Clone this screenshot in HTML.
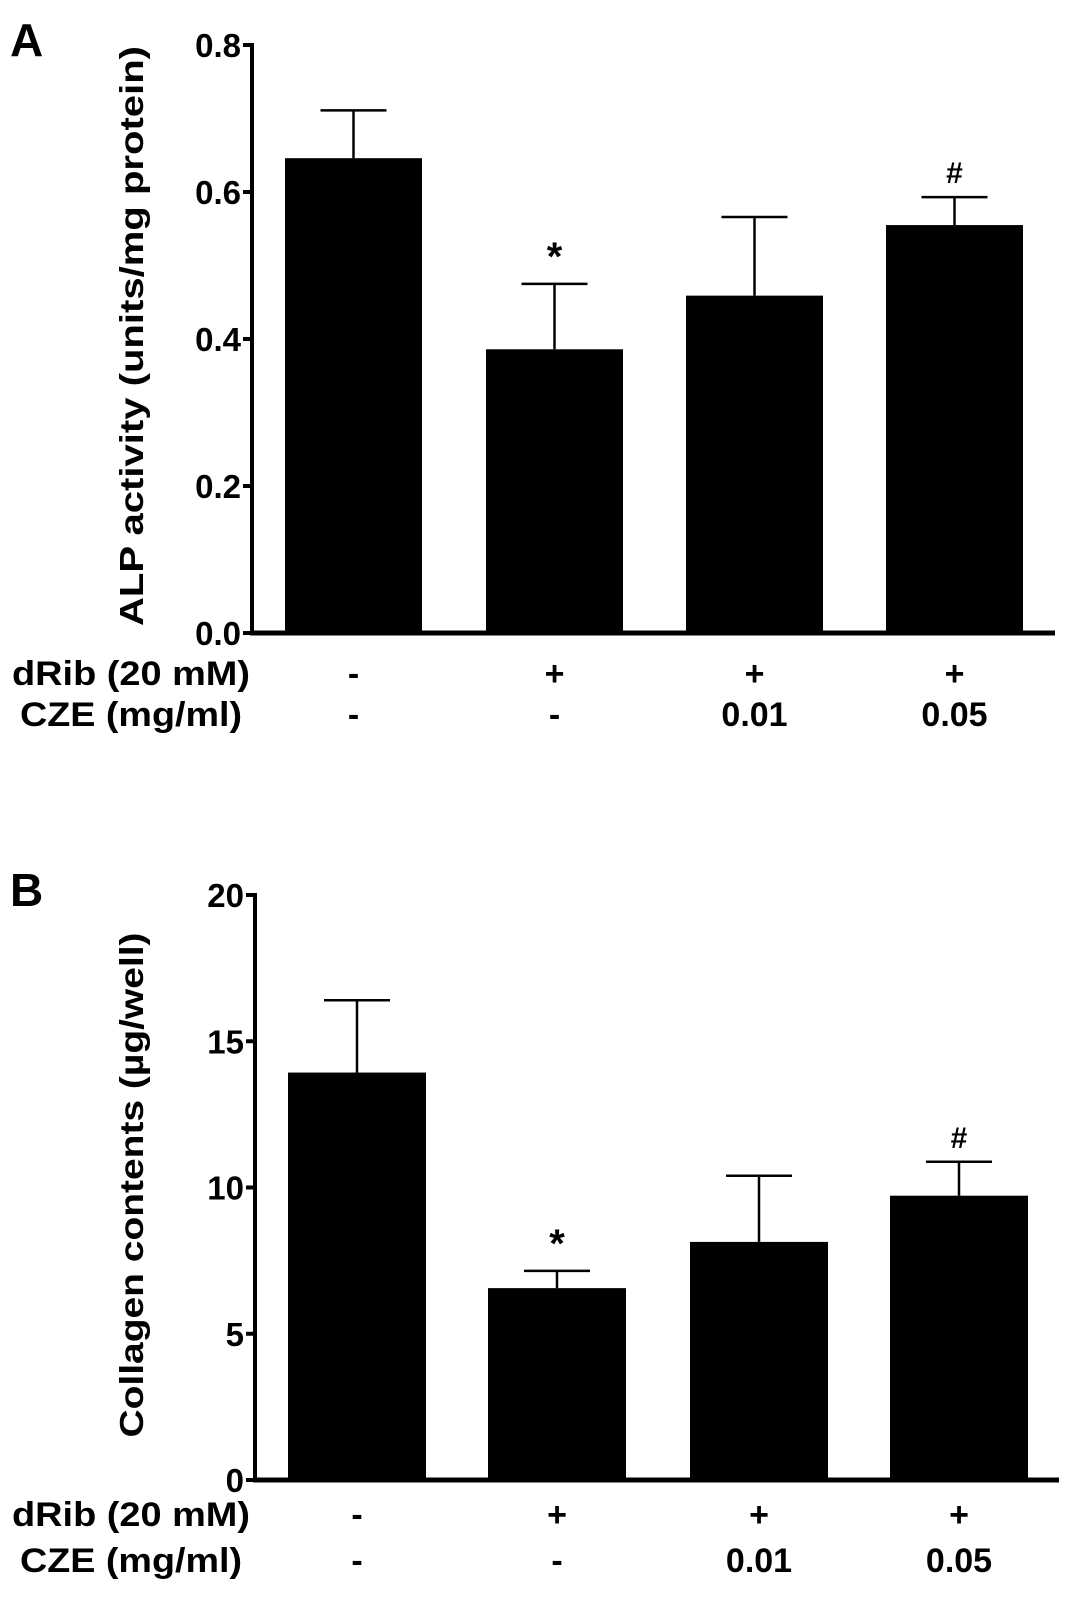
<!DOCTYPE html>
<html><head><meta charset="utf-8"><style>
html,body{margin:0;padding:0;background:#fff}
svg{display:block}
text{font-family:"Liberation Sans",Arial,sans-serif;font-weight:bold;fill:#000}
</style></head><body>
<svg id="fig" width="1087" height="1602" viewBox="0 0 1087 1602" xmlns="http://www.w3.org/2000/svg"></svg>
<script>
const categories = ["ctrl","dRib","dRib+CZE0.01","dRib+CZE0.05"];
const dribLabels = ["-","+","+","+"];
const czeLabels = ["-","-","0.01","0.05"];
const alpValues = [0.646,0.386,0.459,0.555];
const alpErrors = [0.065,0.089,0.107,0.038];
const alpTicks = [0,0.2,0.4,0.6,0.8];
const alpTickLabels = ["0.0","0.2","0.4","0.6","0.8"];
const alpMarks = ["","*","","#"];
const colValues = [13.93,6.56,8.14,9.72];
const colErrors = [2.47,0.59,2.26,1.16];
const colTicks = [0,5,10,15,20];
const colTickLabels = ["0","5","10","15","20"];
const colMarks = ["","*","","#"];

const NS="http://www.w3.org/2000/svg";
const svg=document.getElementById('fig');
function mk(tag,attrs,parent,txt){const e=document.createElementNS(NS,tag);for(const k in attrs)e.setAttribute(k,attrs[k]);if(txt!==undefined)e.textContent=txt;(parent||svg).appendChild(e);return e;}

function panel(cfg){
  const g=mk('g',{});
  
  
  const yv=v=>cfg.y0-(v-cfg.min)/(cfg.max-cfg.min)*(cfg.y0-cfg.y1);
  const xl=i=>cfg.barX[i];
  cfg.values.forEach((v,i)=>{
    const r=mk('rect',{x:xl(i),y:yv(v),width:cfg.barW,height:cfg.y0-yv(v),fill:'#000'},g);
    
    
    const cx=xl(i)+cfg.barW/2, top=yv(v+cfg.errors[i]);
    const e=mk('path',{d:`M${cx},${yv(v)}V${top}M${cx-33},${top}H${cx+33}`,stroke:'#000','stroke-width':2.5,fill:'none'},g);
    
    
    if(cfg.marks[i]){
      const t=mk('text',{x:cx,y:top-14,'text-anchor':'middle','font-size':cfg.marks[i]==='*'?40:30},g,cfg.marks[i]);
      
      
    }
    const d=mk('text',{x:cx,y:cfg.row1,'text-anchor':'middle','font-size':34},g,dribLabels[i]);
    
    
    const c=mk('text',{x:cx,y:cfg.row2,'text-anchor':'middle','font-size':34},g,czeLabels[i]);
    
    
  });
  const ya=mk('path',{d:`M${cfg.ax},${cfg.y1-2}V${cfg.y0+2}`,stroke:'#000','stroke-width':4},g);
  
  
  const xa=mk('path',{d:`M${cfg.ax-2},${cfg.y0}H${cfg.xEnd}`,stroke:'#000','stroke-width':5},g);
  
  
  cfg.ticks.forEach((t,i)=>{
    const tk=mk('path',{d:`M${cfg.ax-9},${yv(t)}H${cfg.ax}`,stroke:'#000','stroke-width':4},g);
    
    
    const tl=mk('text',{x:cfg.ax-11,y:yv(t)+12,'text-anchor':'end','font-size':33},g,cfg.tickLabels[i]);
    
    
  });
  const yt=mk('text',{x:0,y:0,'text-anchor':'middle','font-size':33,transform:`translate(${cfg.titleX},${cfg.titleY}) rotate(-90)`,textLength:cfg.titleLen,lengthAdjust:'spacingAndGlyphs'},g,cfg.title);
  
  
  const r1=mk('text',{x:12,y:cfg.row1,'font-size':34,textLength:238,lengthAdjust:'spacingAndGlyphs'},g,'dRib (20 mM)');
  
  
  const r2=mk('text',{x:20,y:cfg.row2,'font-size':34,textLength:222,lengthAdjust:'spacingAndGlyphs'},g,'CZE (mg/ml)');
  
  
  const pl=mk('text',{x:10,y:cfg.letterY,'font-size':46},g,cfg.letter);
  
  
}

panel({name:'panel-a-alp',min:0,max:0.8,y0:633,y1:45,ax:252,xEnd:1055,barW:137,barX:[285,486,686,886],
  values:alpValues,errors:alpErrors,ticks:alpTicks,tickLabels:alpTickLabels,marks:alpMarks,
  row1:685,row2:726,title:'ALP activity (units/mg protein)',titleX:143,titleY:336,titleLen:580,letter:'A',letterY:56});
panel({name:'panel-b-collagen',min:0,max:20,y0:1480,y1:895,ax:255,xEnd:1059,barW:138,barX:[288,488,690,890],
  values:colValues,errors:colErrors,ticks:colTicks,tickLabels:colTickLabels,marks:colMarks,
  row1:1526,row2:1572,title:'Collagen contents (\u00b5g/well)',titleX:143,titleY:1185,titleLen:505,letter:'B',letterY:906});
</script>
</body></html>
